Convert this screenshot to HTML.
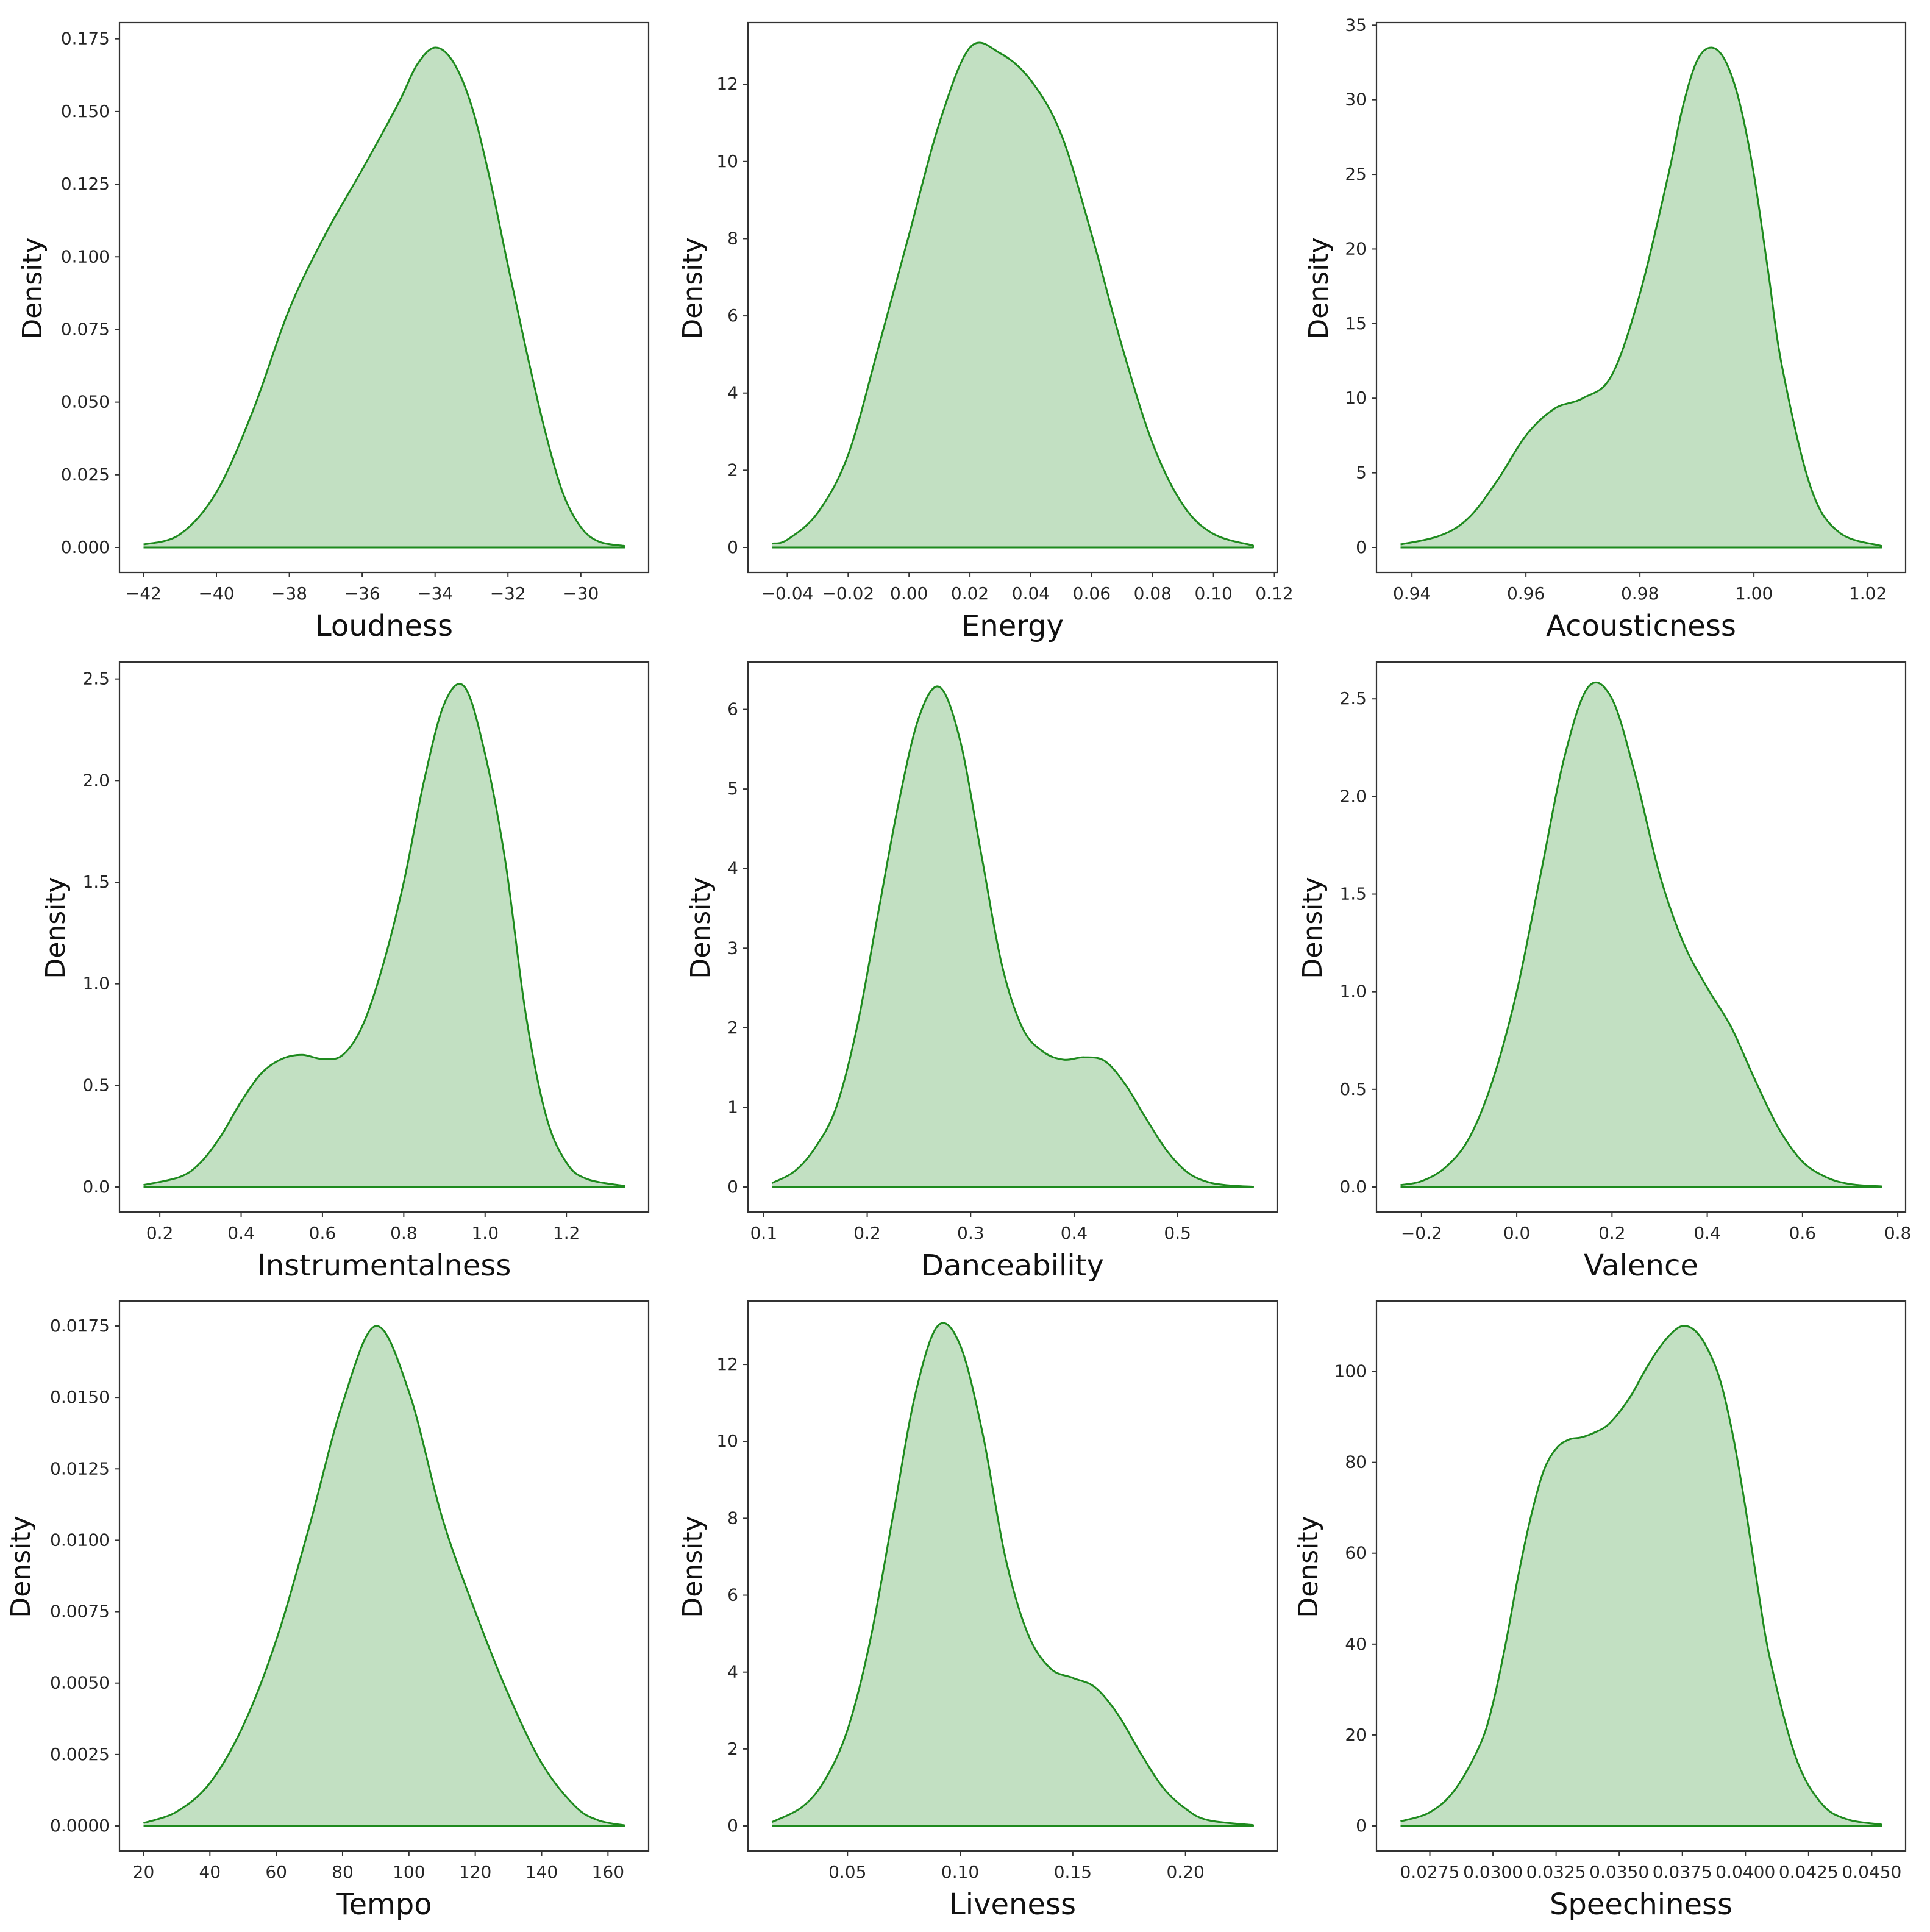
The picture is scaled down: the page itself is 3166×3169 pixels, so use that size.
<!DOCTYPE html>
<html><head><meta charset="utf-8"><style>
html,body{margin:0;padding:0;background:#fff}
svg{display:block}
text{font-family:"DejaVu Sans","Liberation Sans",sans-serif}
</style></head><body>
<svg id="fig" width="3166" height="3169" viewBox="0 0 3166 3169" xmlns="http://www.w3.org/2000/svg"></svg>
<script>
const loudnessX=[-42,-41,-40,-39,-38,-37,-36,-35,-34.5,-34,-33.5,-33,-32.5,-32,-31.5,-31,-30.5,-30,-29.5,-28.8];
const loudnessY=[0.001,0.0045,0.019,0.047,0.082,0.108,0.13,0.153,0.166,0.172,0.167,0.152,0.127,0.097,0.068,0.041,0.019,0.007,0.002,0.0005];
const loudnessTicksX=[-42,-40,-38,-36,-34,-32,-30];
const loudnessTickLabelsX=["\u221242","\u221240","\u221238","\u221236","\u221234","\u221232","\u221230"];
const loudnessTicksY=[0,0.025,0.05,0.075,0.1,0.125,0.15,0.175];
const loudnessTickLabelsY=["0.000","0.025","0.050","0.075","0.100","0.125","0.150","0.175"];

const energyX=[-0.045,-0.04,-0.03,-0.02,-0.01,0,0.01,0.02,0.03,0.04,0.05,0.06,0.07,0.08,0.09,0.10,0.113];
const energyY=[0.1,0.2,0.9,2.4,5.2,8.1,11,12.95,12.8,12.1,10.7,8.1,5.2,2.7,1.1,0.35,0.05];
const energyTicksX=[-0.04,-0.02,0,0.02,0.04,0.06,0.08,0.10,0.12];
const energyTickLabelsX=["\u22120.04","\u22120.02","0.00","0.02","0.04","0.06","0.08","0.10","0.12"];
const energyTicksY=[0,2,4,6,8,10,12];
const energyTickLabelsY=["0","2","4","6","8","10","12"];

const acousticX=[0.938,0.945,0.95,0.955,0.96,0.965,0.97,0.975,0.98,0.985,0.9875,0.99,0.9925,0.995,0.9975,1.0,1.0025,1.005,1.01,1.015,1.0224];
const acousticY=[0.2,0.8,2,4.5,7.5,9.3,10,11.5,17,25,29.5,32.6,33.5,32.6,29.8,25,18.5,12,4,1,0.1];
const acousticTicksX=[0.94,0.96,0.98,1.00,1.02];
const acousticTickLabelsX=["0.94","0.96","0.98","1.00","1.02"];
const acousticTicksY=[0,5,10,15,20,25,30,35];
const acousticTickLabelsY=["0","5","10","15","20","25","30","35"];

const instrX=[0.16,0.25,0.3,0.35,0.4,0.45,0.5,0.55,0.6,0.65,0.7,0.75,0.8,0.85,0.9,0.95,1.0,1.05,1.1,1.15,1.2,1.25,1.343];
const instrY=[0.01,0.05,0.12,0.25,0.42,0.56,0.63,0.65,0.63,0.65,0.8,1.1,1.5,2.0,2.38,2.46,2.13,1.6,0.85,0.35,0.12,0.04,0.005];
const instrTicksX=[0.2,0.4,0.6,0.8,1.0,1.2];
const instrTickLabelsX=["0.2","0.4","0.6","0.8","1.0","1.2"];
const instrTicksY=[0,0.5,1,1.5,2,2.5];
const instrTickLabelsY=["0.0","0.5","1.0","1.5","2.0","2.5"];

const danceX=[0.108,0.13,0.15,0.17,0.19,0.21,0.23,0.25,0.27,0.29,0.31,0.33,0.35,0.37,0.39,0.41,0.43,0.45,0.47,0.49,0.51,0.53,0.55,0.573];
const danceY=[0.05,0.2,0.5,1.0,2.0,3.4,4.8,5.9,6.28,5.6,4.2,2.8,2.0,1.7,1.6,1.63,1.58,1.28,0.85,0.45,0.18,0.06,0.02,0.003];
const danceTicksX=[0.1,0.2,0.3,0.4,0.5];
const danceTickLabelsX=["0.1","0.2","0.3","0.4","0.5"];
const danceTicksY=[0,1,2,3,4,5,6];
const danceTickLabelsY=["0","1","2","3","4","5","6"];

const valenceX=[-0.244,-0.2,-0.15,-0.1,-0.05,0,0.05,0.1,0.15,0.2,0.25,0.3,0.35,0.4,0.45,0.5,0.55,0.6,0.65,0.7,0.766];
const valenceY=[0.01,0.03,0.1,0.25,0.55,1.0,1.6,2.2,2.56,2.5,2.1,1.6,1.25,1.02,0.82,0.55,0.3,0.13,0.05,0.015,0.003];
const valenceTicksX=[-0.2,0,0.2,0.4,0.6,0.8];
const valenceTickLabelsX=["\u22120.2","0.0","0.2","0.4","0.6","0.8"];
const valenceTicksY=[0,0.5,1,1.5,2,2.5];
const valenceTickLabelsY=["0.0","0.5","1.0","1.5","2.0","2.5"];

const tempoX=[20,30,40,50,60,70,80,90,100,110,120,130,140,150,157,165];
const tempoY=[0.0001,0.0005,0.0015,0.0035,0.0065,0.0105,0.0148,0.0175,0.0152,0.0108,0.0075,0.0046,0.0022,0.0007,0.0002,0.00002];
const tempoTicksX=[20,40,60,80,100,120,140,160];
const tempoTickLabelsX=["20","40","60","80","100","120","140","160"];
const tempoTicksY=[0,0.0025,0.005,0.0075,0.01,0.0125,0.015,0.0175];
const tempoTickLabelsY=["0.0000","0.0025","0.0050","0.0075","0.0100","0.0125","0.0150","0.0175"];

const liveX=[0.0165,0.03,0.04,0.05,0.06,0.07,0.08,0.09,0.1,0.11,0.12,0.13,0.14,0.15,0.16,0.17,0.18,0.19,0.2,0.21,0.23];
const liveY=[0.1,0.5,1.2,2.5,4.8,8,11.2,13.0,12.5,10.2,7.0,5.0,4.1,3.85,3.6,2.9,1.9,1.0,0.45,0.15,0.02];
const liveTicksX=[0.05,0.10,0.15,0.20];
const liveTickLabelsX=["0.05","0.10","0.15","0.20"];
const liveTicksY=[0,2,4,6,8,10,12];
const liveTickLabelsY=["0","2","4","6","8","10","12"];

const speechX=[0.02634,0.0275,0.0285,0.0295,0.03,0.0305,0.031,0.0315,0.032,0.0325,0.033,0.0335,0.034,0.0345,0.035,0.0355,0.036,0.0365,0.037,0.0375,0.038,0.0385,0.039,0.0395,0.04,0.0405,0.041,0.042,0.043,0.044,0.04539];
const speechY=[1,3,8,18,27,40,55,68,78,83,85,85.5,86.5,88,91,95,100,104.5,108,110,109,105,98,86,70,52,36,15,5,1.5,0.3];
const speechTicksX=[0.0275,0.03,0.0325,0.035,0.0375,0.04,0.0425,0.045];
const speechTickLabelsX=["0.0275","0.0300","0.0325","0.0350","0.0375","0.0400","0.0425","0.0450"];
const speechTicksY=[0,20,40,60,80,100];
const speechTickLabelsY=["0","20","40","60","80","100"];

const NS="http://www.w3.org/2000/svg";
const svg=document.getElementById('fig');
function mk(tag,attrs,parent){const e=document.createElementNS(NS,tag);for(const k in attrs)e.setAttribute(k,attrs[k]);(parent||svg).appendChild(e);return e;}

const panels=[
 {key:'loudness',title:'Loudness',x:loudnessX,y:loudnessY,tx:loudnessTicksX,txl:loudnessTickLabelsX,ty:loudnessTicksY,tyl:loudnessTickLabelsY,col:0,row:0,yl:143},
 {key:'energy',title:'Energy',x:energyX,y:energyY,tx:energyTicksX,txl:energyTickLabelsX,ty:energyTicksY,tyl:energyTickLabelsY,col:1,row:0,yl:91},
 {key:'acousticness',title:'Acousticness',x:acousticX,y:acousticY,tx:acousticTicksX,txl:acousticTickLabelsX,ty:acousticTicksY,tyl:acousticTickLabelsY,col:2,row:0,yl:95},
 {key:'instrumentalness',title:'Instrumentalness',x:instrX,y:instrY,tx:instrTicksX,txl:instrTickLabelsX,ty:instrTicksY,tyl:instrTickLabelsY,col:0,row:1,yl:105},
 {key:'danceability',title:'Danceability',x:danceX,y:danceY,tx:danceTicksX,txl:danceTickLabelsX,ty:danceTicksY,tyl:danceTickLabelsY,col:1,row:1,yl:78},
 {key:'valence',title:'Valence',x:valenceX,y:valenceY,tx:valenceTicksX,txl:valenceTickLabelsX,ty:valenceTicksY,tyl:valenceTickLabelsY,col:2,row:1,yl:105},
 {key:'tempo',title:'Tempo',x:tempoX,y:tempoY,tx:tempoTicksX,txl:tempoTickLabelsX,ty:tempoTicksY,tyl:tempoTickLabelsY,col:0,row:2,yl:162},
 {key:'liveness',title:'Liveness',x:liveX,y:liveY,tx:liveTicksX,txl:liveTickLabelsX,ty:liveTicksY,tyl:liveTickLabelsY,col:1,row:2,yl:91},
 {key:'speechiness',title:'Speechiness',x:speechX,y:speechY,tx:speechTicksX,txl:speechTickLabelsX,ty:speechTicksY,tyl:speechTickLabelsY,col:2,row:2,yl:112},
];
const colL=[196,1227,2258], rowT=[37,1086,2134], W=868, H=902;

function smoothPath(pts){
  let d='M'+pts[0][0].toFixed(1)+','+pts[0][1].toFixed(1);
  for(let i=0;i<pts.length-1;i++){
    const p0=pts[Math.max(0,i-1)],p1=pts[i],p2=pts[i+1],p3=pts[Math.min(pts.length-1,i+2)];
    const c1x=p1[0]+(p2[0]-p0[0])/6,c1y=p1[1]+(p2[1]-p0[1])/6;
    const c2x=p2[0]-(p3[0]-p1[0])/6,c2y=p2[1]-(p3[1]-p1[1])/6;
    d+=' C'+c1x.toFixed(1)+','+c1y.toFixed(1)+' '+c2x.toFixed(1)+','+c2y.toFixed(1)+' '+p2[0].toFixed(1)+','+p2[1].toFixed(1);
  }
  return d;
}

panels.forEach(p=>{
  const L=colL[p.col],T=rowT[p.row];
  const g=mk('g',{});
  
  
  const xmin=Math.min(...p.x),xmax=Math.max(...p.x),ymax=Math.max(...p.y);
  const x0=xmin-0.05*(xmax-xmin),x1=xmax+0.05*(xmax-xmin);
  const y0=-0.05*ymax,y1=1.05*ymax;
  const sx=v=>L+(v-x0)/(x1-x0)*W;
  const sy=v=>T+H-(v-y0)/(y1-y0)*H;
  const pts=p.x.map((v,i)=>[sx(v),sy(p.y[i])]);
  const line=smoothPath(pts);
  const fill=mk('path',{d:line+' L'+sx(xmax).toFixed(1)+','+sy(0).toFixed(1)+' L'+sx(xmin).toFixed(1)+','+sy(0).toFixed(1)+' Z',fill:'#c2e0c2',stroke:'none'},g);
  
  
  const ln=mk('path',{d:line+' L'+sx(xmax).toFixed(1)+','+sy(0).toFixed(1)+' L'+sx(xmin).toFixed(1)+','+sy(0).toFixed(1),fill:'none',stroke:'#1e8a1e','stroke-width':3,'stroke-linejoin':'round'},g);
  
  
  const fr=mk('rect',{x:L,y:T,width:W,height:H,fill:'none',stroke:'#333','stroke-width':2.2},g);
  
  
  p.tx.forEach((v,i)=>{
    const X=sx(v);
    mk('line',{x1:X,x2:X,y1:T+H,y2:T+H+8,stroke:'#333','stroke-width':2},g);
    const t=mk('text',{x:X,y:T+H+44,'text-anchor':'middle','font-size':28,fill:'#262626'},g);
    t.textContent=p.txl[i];
    
    
  });
  p.ty.forEach((v,i)=>{
    const Y=sy(v);
    mk('line',{x1:L-8,x2:L,y1:Y,y2:Y,stroke:'#333','stroke-width':2},g);
    const t=mk('text',{x:L-16,y:Y+9,'text-anchor':'end','font-size':28,fill:'#262626'},g);
    t.textContent=p.tyl[i];
    
    
  });
  const xl=mk('text',{x:L+W/2,y:T+H+104,'text-anchor':'middle','font-size':48,fill:'#111'},g);
  xl.textContent=p.title;
  
  
  const yx=L-p.yl+15, yy=T+H/2-15;
  const yl=mk('text',{x:yx,y:yy,'text-anchor':'middle','font-size':44,fill:'#111',transform:'rotate(-90 '+yx+' '+yy+')'},g);
  yl.textContent='Density';
  
  
});
</script>
</body></html>
